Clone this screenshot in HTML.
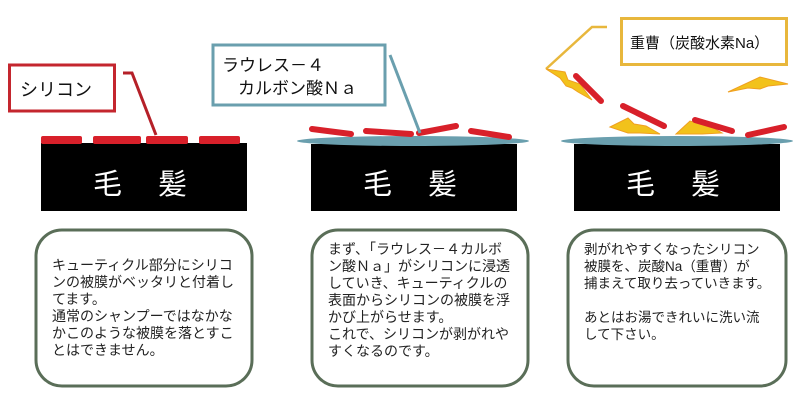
<!DOCTYPE html>
<html><head><meta charset="utf-8"><style>
html,body{margin:0;padding:0;background:#fff;}
svg{display:block;}
text{font-family:"Liberation Sans","Noto Sans CJK JP",sans-serif;}
</style></head><body>
<svg width="800" height="410" viewBox="0 0 800 410" xmlns="http://www.w3.org/2000/svg">
<!-- Panel 1 -->
<rect x="41" y="143" width="206" height="68" fill="#000"/>
<rect x="41" y="136" width="41" height="8" rx="2" fill="#d8202a"/>
<rect x="93" y="136" width="48" height="8" rx="2" fill="#d8202a"/>
<rect x="146" y="136" width="42" height="8" rx="2" fill="#d8202a"/>
<rect x="199" y="136" width="41" height="8" rx="2" fill="#d8202a"/>
<text x="93" y="194" font-size="29" fill="#fff">毛</text>
<text x="158" y="194" font-size="29" fill="#fff">髪</text>
<rect x="9.5" y="65" width="105" height="46" fill="#fff" stroke="#c4262e" stroke-width="3"/>
<text x="20" y="96" font-size="18" fill="#111">シリコン</text>
<polyline points="123,73 132,73 156,135" fill="none" stroke="#b52028" stroke-width="3"/>

<!-- Panel 2 -->
<rect x="311" y="144" width="206" height="67" fill="#000"/>
<ellipse cx="413" cy="141" rx="116" ry="5" fill="#6a9fae"/>
<line x1="312" y1="129" x2="351" y2="134" stroke="#d8202a" stroke-width="6" stroke-linecap="round"/>
<line x1="366" y1="131" x2="411" y2="134" stroke="#d8202a" stroke-width="6" stroke-linecap="round"/>
<line x1="419" y1="133" x2="456" y2="126" stroke="#d8202a" stroke-width="6" stroke-linecap="round"/>
<line x1="471" y1="131" x2="509" y2="137" stroke="#d8202a" stroke-width="6" stroke-linecap="round"/>
<text x="363" y="194" font-size="29" fill="#fff">毛</text>
<text x="428" y="194" font-size="29" fill="#fff">髪</text>
<rect x="213" y="45" width="172" height="60" fill="#fff" stroke="#6a9fae" stroke-width="3"/>
<line x1="390" y1="55" x2="420" y2="133" stroke="#6a9fae" stroke-width="3"/>
<text x="222" y="71" font-size="17" fill="#111">ラウレス－４</text>
<text x="238" y="94" font-size="17" fill="#111">カルボン酸Ｎａ</text>

<!-- Panel 3 -->
<rect x="574" y="144" width="206" height="67" fill="#000"/>
<ellipse cx="677" cy="141" rx="116" ry="5" fill="#6a9fae"/>
<text x="626" y="194" font-size="29" fill="#fff">毛</text>
<text x="691" y="194" font-size="29" fill="#fff">髪</text>
<rect x="621.5" y="18.5" width="165" height="46" fill="#fff" stroke="#e8b73c" stroke-width="3"/>
<text x="630" y="48" font-size="15" fill="#111">重曹（炭酸水素Na）</text>
<polyline points="607,27 592,27 546,69" fill="none" stroke="#e8b73c" stroke-width="2.5"/>
<g fill="#f2c21b" stroke="#f0a020" stroke-width="1">
<polygon points="546,69 565,72 568,80 580,84 592,100 578,92 572,88 566,86 560,78"/>
<polygon points="728,92 760,77 788,84 768,86 760,89 748,88"/>
<polygon points="610,127 628,118 634,124 646,126 660,134 640,133 628,133"/>
<polygon points="676,134 690,121 700,124 710,126 722,133 702,134"/>
</g>
<g stroke="#d8202a" stroke-width="6" stroke-linecap="round">
<line x1="576" y1="76" x2="601" y2="101"/>
<line x1="623" y1="106" x2="664" y2="126"/>
<line x1="695" y1="120" x2="732" y2="131"/>
<line x1="748" y1="135" x2="784" y2="127"/>
</g>

<!-- Text boxes -->
<g fill="#fff" stroke="#5a6e58" stroke-width="3">
<rect x="36" y="230" width="216" height="156" rx="26"/>
<rect x="312" y="230" width="216" height="156" rx="26"/>
<rect x="568" y="230" width="218" height="156" rx="26"/>
</g>
<g font-size="14" fill="#222">
<text x="52" y="270">キューティクル部分にシリコ</text>
<text x="52" y="287">ンの被膜がベッタリと付着し</text>
<text x="52" y="304">てます。</text>
<text x="52" y="321">通常のシャンプーではなかな</text>
<text x="52" y="338">かこのような被膜を落とすこ</text>
<text x="52" y="355">とはできません。</text>

<text x="328" y="254">まず、「ラウレス－４カルボ</text>
<text x="328" y="271">ン酸Ｎａ」がシリコンに浸透</text>
<text x="328" y="288">していき、キューティクルの</text>
<text x="328" y="305">表面からシリコンの被膜を浮</text>
<text x="328" y="322">かび上がらせます。</text>
<text x="328" y="339">これで、シリコンが剥がれや</text>
<text x="328" y="356">すくなるのです。</text>
</g>
<g font-size="13.5" fill="#222">
<text x="584" y="254">剥がれやすくなったシリコン</text>
<text x="584" y="271">被膜を、炭酸Na（重曹）が</text>
<text x="584" y="288">捕まえて取り去っていきます。</text>
<text x="584" y="322">あとはお湯できれいに洗い流</text>
<text x="584" y="339">して下さい。</text>
</g>
</svg>
</body></html>
